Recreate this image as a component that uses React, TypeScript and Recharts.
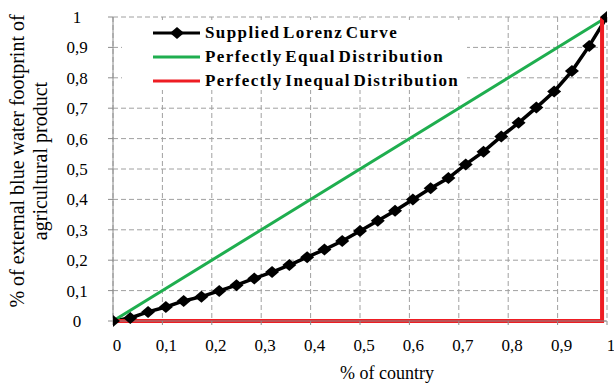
import { LineChart, Line, XAxis, YAxis, CartesianGrid, Legend, Label } from "recharts";

const lorenzX = [
  0, 0.035, 0.071, 0.107, 0.143, 0.179, 0.215, 0.25, 0.286, 0.322, 0.357, 0.393, 0.428, 0.464, 0.5,
  0.536, 0.571, 0.607, 0.643, 0.679, 0.714, 0.75, 0.786, 0.821, 0.857, 0.893, 0.929, 0.964, 1.0,
];
const lorenzY = [
  0, 0.01, 0.03, 0.046, 0.066, 0.08, 0.099, 0.118, 0.14, 0.161, 0.184, 0.21, 0.235, 0.263, 0.296,
  0.33, 0.363, 0.4, 0.437, 0.47, 0.515, 0.557, 0.607, 0.652, 0.702, 0.755, 0.822, 0.905, 1.0,
];
const equalX = [0, 1];
const equalY = [0, 1];
const inequalX = [0, 0.99, 0.99];
const inequalY = [0, 0, 1];

const axisTicks = [0, 0.1, 0.2, 0.3, 0.4, 0.5, 0.6, 0.7, 0.8, 0.9, 1];
const seriesNames = [
  "Supplied Lorenz Curve",
  "Perfectly Equal Distribution",
  "Perfectly Inequal Distribution",
];
const seriesColors = ["#000000", "#1fae4f", "#ee1d23"];

const FONT = "'Liberation Serif', 'Times New Roman', serif";

const toPoints = (xs: number[], ys: number[]) => xs.map((x, i) => ({ x, y: ys[i] }));
const fmt = (v: number) => String(Number(v.toFixed(1))).replace(".", ",");

const Diamond = (props: any) => {
  const { cx, cy, index } = props;
  if (cx == null || cy == null) return <g key={index} />;
  return (
    <polygon
      key={index}
      points={`${cx - 7},${cy} ${cx},${cy - 6} ${cx + 7},${cy} ${cx},${cy + 6}`}
      fill="#000"
    />
  );
};

const YTick = ({ x, y, payload }: any) => (
  <text x={x - 29} y={y} dy={6} textAnchor="middle" fontFamily={FONT} fontSize={17} fill="#000">
    {fmt(payload.value)}
  </text>
);

const XTick = ({ x, y, payload }: any) => (
  <text x={x + 4} y={y} dy={24} textAnchor="middle" fontFamily={FONT} fontSize={17} fill="#000">
    {fmt(payload.value)}
  </text>
);

const LegendBox = () => (
  <div
    style={{
      background: "#fff",
      width: 345,
      height: 70,
      boxSizing: "border-box",
      paddingLeft: 31,
      paddingTop: 1,
    }}
  >
    {seriesNames.map((name, i) => (
      <div key={name} style={{ display: "flex", alignItems: "center", height: 24 }}>
        <svg width={47} height={14} style={{ marginRight: 5 }}>
          <line x1={0} y1={7} x2={47} y2={7} stroke={seriesColors[i]} strokeWidth={3} />
          {i === 0 && <polygon points="17,7 24,1 31,7 24,13" fill="#000" />}
        </svg>
        <span
          style={{
            fontFamily: FONT,
            fontSize: 17,
            fontWeight: "bold",
            letterSpacing: 1.4,
            wordSpacing: -3,
            color: "#000",
            whiteSpace: "nowrap",
          }}
        >
          {name}
        </span>
      </div>
    ))}
  </div>
);

export default function App() {
  return (
    <div style={{ position: "absolute", left: 0, top: 0, width: 614, height: 383, background: "#fff" }}>
      <LineChart width={614} height={383} margin={{ top: 17, right: 7, bottom: 32, left: 0 }}>
        <CartesianGrid stroke="#a0a0a0" strokeDasharray="5 3" />
        <XAxis
          type="number"
          dataKey="x"
          domain={[0, 1]}
          ticks={axisTicks}
          height={30}
          tick={<XTick />}
          tickSize={4}
          stroke="#8c8c8c"
          allowDataOverflow
        >
          <Label
            content={() => (
              <text x={387} y={373} textAnchor="middle" dominantBaseline="central" fontFamily={FONT} fontSize={18} fill="#000">
                % of country
              </text>
            )}
          />
        </XAxis>
        <YAxis
          type="number"
          dataKey="y"
          domain={[0, 1]}
          ticks={axisTicks}
          width={113}
          tick={<YTick />}
          tickSize={5}
          stroke="#8c8c8c"
        >
          <Label
            content={() => (
              <g fontFamily={FONT} fontSize={20} fill="#000">
                <text x={17} y={161} textAnchor="middle" dominantBaseline="central" transform="rotate(-90 17 161)">
                  % of external blue water footprint of
                </text>
                <text x={40} y={161} textAnchor="middle" dominantBaseline="central" transform="rotate(-90 40 161)">
                  agricultural product
                </text>
              </g>
            )}
          />
        </YAxis>
        <Legend
          layout="horizontal"
          verticalAlign="middle"
          align="center"
          content={<LegendBox />}
          wrapperStyle={{ position: "absolute", left: 122, top: 20, width: 345, height: 70 }}
        />
        <Line
          data={toPoints(lorenzX, lorenzY)}
          dataKey="y"
          name={seriesNames[0]}
          stroke={seriesColors[0]}
          strokeWidth={3.5}
          dot={<Diamond />}
          activeDot={false}
          isAnimationActive={false}
        />
        <Line
          data={toPoints(equalX, equalY)}
          dataKey="y"
          name={seriesNames[1]}
          stroke={seriesColors[1]}
          strokeWidth={3}
          dot={false}
          activeDot={false}
          isAnimationActive={false}
        />
        <Line
          data={toPoints(inequalX, inequalY)}
          dataKey="y"
          name={seriesNames[2]}
          stroke={seriesColors[2]}
          strokeWidth={4}
          dot={false}
          activeDot={false}
          isAnimationActive={false}
        />
      </LineChart>
    </div>
  );
}
